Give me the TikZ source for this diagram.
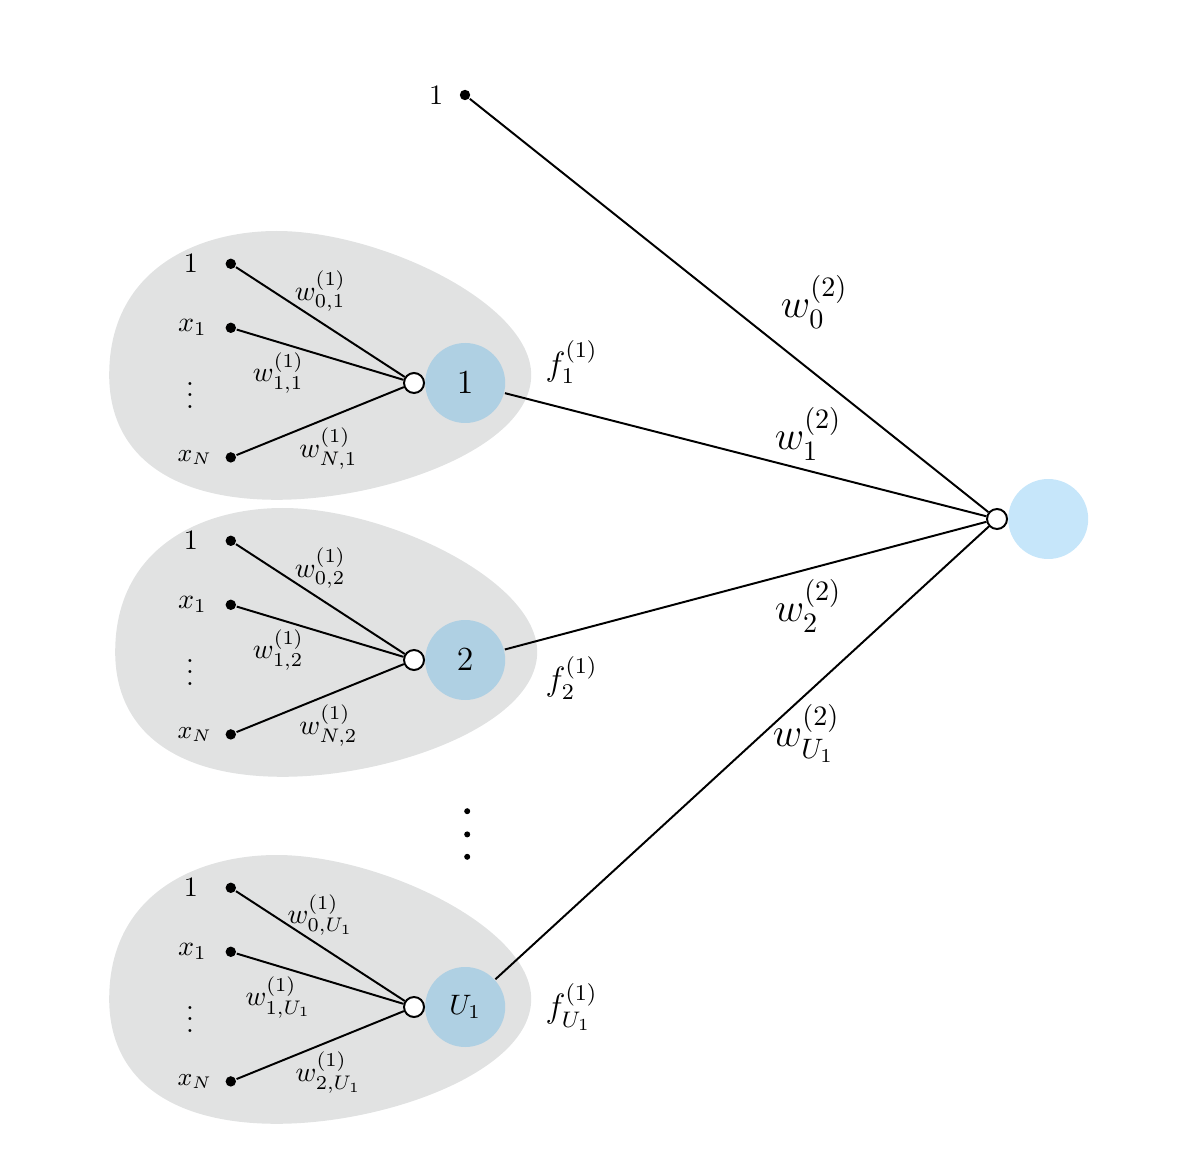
\documentclass[tikz,border=0pt]{standalone}
\usepackage{amsmath}
\usepackage{tikz}
\usetikzlibrary{positioning,backgrounds}

\definecolor{blobgray}{HTML}{E1E2E2}
\definecolor{hidblue}{HTML}{AFD0E3}
\definecolor{outblue}{HTML}{C6E6FA}

\begin{document}
\begin{tikzpicture}[node distance=2cm,on grid,line width=0.7pt,
    sum/.style={circle,draw,fill=white,minimum size=0.25cm,inner sep=0pt},
    unit/.style={circle,fill=hidblue,minimum size=1cm,inner sep=0pt},
    indot/.style={circle,fill=black,minimum size=0.13cm,inner sep=0pt}]
  \useasboundingbox (0,0) rectangle (14.925,-14.5);

  % first hidden unit
  \node[sum] (s_1) at (5.175,-4.7875) {};
  \node[unit] (u_1) [right=0.64cm of s_1] {\large $1$};
  \node[indot] (x_01) [above left=1.49cm and 2.29cm of s_1] {};
  \node[indot] (x_11) [above left=0.69cm and 2.29cm of s_1] {};
  \node[indot] (x_N1) [below left=0.93cm and 2.29cm of s_1] {};
  \node (l_01) [left=0.5cm of x_01] {$1$};
  \node (l_11) [left=0.48cm of x_11] {$x_1$};
  \node (l_N1) [left=0.45cm of x_N1] {\small $x_N$};
  \node[inner sep=0pt] (d_1) [below left=0.05cm and 2.8cm of s_1] {$\vdots$};
  \node (f_1) [above right=0.26cm and 1.33cm of u_1] {\large $f_1^{(1)}$};

  % second hidden unit
  \node[sum] (s_2) [below=3.4625cm of s_1] {};
  \node[unit] (u_2) [right=0.64cm of s_2] {\large $2$};
  \node[indot] (x_02) [above left=1.49cm and 2.29cm of s_2] {};
  \node[indot] (x_12) [above left=0.69cm and 2.29cm of s_2] {};
  \node[indot] (x_N2) [below left=0.93cm and 2.29cm of s_2] {};
  \node (l_02) [left=0.5cm of x_02] {$1$};
  \node (l_12) [left=0.48cm of x_12] {$x_1$};
  \node (l_N2) [left=0.45cm of x_N2] {\small $x_N$};
  \node[inner sep=0pt] (d_2) [below left=0.05cm and 2.8cm of s_2] {$\vdots$};
  \node (f_2) [below right=0.225cm and 1.33cm of u_2] {\large $f_2^{(1)}$};

  % last hidden unit
  \node[sum] (s_3) [below=4.3375cm of s_2] {};
  \node[unit] (u_3) [right=0.64cm of s_3] {$U_1$};
  \node[indot] (x_03) [above left=1.49cm and 2.29cm of s_3] {};
  \node[indot] (x_13) [above left=0.69cm and 2.29cm of s_3] {};
  \node[indot] (x_N3) [below left=0.93cm and 2.29cm of s_3] {};
  \node (l_03) [left=0.5cm of x_03] {$1$};
  \node (l_13) [left=0.48cm of x_13] {$x_1$};
  \node (l_N3) [left=0.45cm of x_N3] {\small $x_N$};
  \node[inner sep=0pt] (d_3) [below left=0.05cm and 2.8cm of s_3] {$\vdots$};
  \node (f_3) [right=1.33cm of u_3] {\large $f_{U_1}^{(1)}$};

  % output unit and bias
  \node[sum] (s_o) at (12.4625,-6.4875) {};
  \node[unit,fill=outblue] (u_o) [right=0.64cm of s_o] {};
  \node[indot] (b_0) at (5.8125,-1.1875) {};
  \node (l_b) [left=0.36cm of b_0] {$1$};
  \foreach \n/\y in {1/-10.14,2/-10.43,3/-10.71}
    \node[indot,minimum size=0.075cm] (v_\n) at (5.84,\y) {};

  \path (x_01) edge node[above] {$w_{0,1}^{(1)}$} (s_1);
  \path (x_11) edge node[pos=0.25,below] {$w_{1,1}^{(1)}$} (s_1);
  \path (x_N1) edge node[pos=0.55,below] {$w_{N,1}^{(1)}$} (s_1);
  \path (x_02) edge node[above] {$w_{0,2}^{(1)}$} (s_2);
  \path (x_12) edge node[pos=0.25,below] {$w_{1,2}^{(1)}$} (s_2);
  \path (x_N2) edge node[pos=0.55,below] {$w_{N,2}^{(1)}$} (s_2);
  \path (x_03) edge node[above] {$w_{0,U_1}^{(1)}$} (s_3);
  \path (x_13) edge node[pos=0.25,below] {$w_{1,U_1}^{(1)}$} (s_3);
  \path (x_N3) edge node[pos=0.55,below] {$w_{2,U_1}^{(1)}$} (s_3);

  \path (b_0) edge node[pos=0.58,above right] {\Large $w_0^{(2)}$} (s_o);
  \path (u_1) edge node[pos=0.63,above] {\Large $w_1^{(2)}$} (s_o);
  \path (u_2) edge node[pos=0.63,below] {\Large $w_2^{(2)}$} (s_o);
  \path (u_3) edge node[pos=0.63,below] {\Large $w_{U_1}^{(2)}$} (s_o);

  \begin{scope}[on background layer]
    \foreach \u/\dx in {u_1/-0.075,u_2/0,u_3/-0.075}
      \fill[blobgray,shift={(\u)},xshift=\dx cm] (-4.375,0.1)
        .. controls (-4.375,1.4) and (-3.3,1.9) .. (-2.28,1.9)
        .. controls (-1.0,1.9) and (0.9,1.0) .. (0.9,0.1)
        .. controls (0.9,-0.8) and (-0.9,-1.46) .. (-2.28,-1.46)
        .. controls (-3.6,-1.46) and (-4.375,-0.9) .. cycle;
  \end{scope}
\end{tikzpicture}
\end{document}
